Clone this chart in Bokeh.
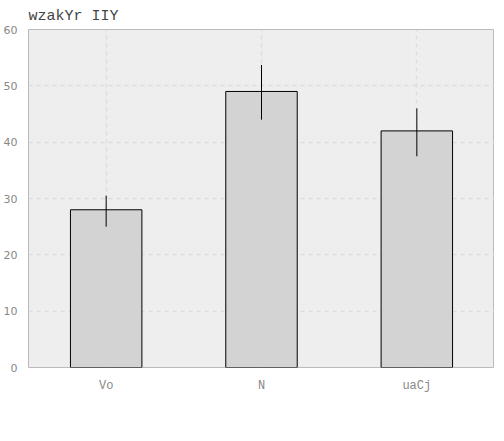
from bokeh.plotting import figure
from bokeh.models import ColumnDataSource, Legend, LegendItem
from bokeh.embed import file_html
from bokeh.resources import INLINE

categories = ["Vo", "N", "uaCj"]
values = [28, 49, 42]
err_low = [25, 44, 37.5]
err_high = [30.5, 53.7, 46]
series_name = "vPOg"
title_text = "wzakYr IIY"

src = ColumnDataSource(dict(x=categories, top=values, lo=err_low, hi=err_high))

p = figure(x_range=categories, y_range=(0, 60), frame_width=466, frame_height=338,
           output_backend="svg", toolbar_location=None,
           min_border_left=22, min_border_right=0, min_border_top=4, min_border_bottom=10)
p.title.text = title_text
p.title.text_font = "Liberation Mono"
p.title.text_font_size = "15px"
p.title.text_font_style = "normal"
p.title.offset = 0
p.background_fill_color = "#eeeeee"
p.border_fill_color = "white"
p.outline_line_color = "#bbbbbb"

p.vbar(x="x", top="top", width=0.46, source=src, fill_color="#d3d3d3", line_color="black")
seg = p.segment(x0="x", x1="x", y0="lo", y1="hi", source=src, line_color="black", line_width=1)

for ax in (p.xaxis[0], p.yaxis[0]):
    ax.axis_line_color = None
    ax.major_tick_line_color = None
    ax.minor_tick_line_color = None
    ax.major_label_text_color = "#888888"
    ax.major_label_text_font_size = "12px"
p.xaxis.major_label_text_font = "Liberation Mono"
p.yaxis.major_label_text_font = "DejaVu Sans"
p.yaxis.major_label_text_font_size = "11px"
p.yaxis.ticker = [0, 10, 20, 30, 40, 50, 60]

for g in (p.xgrid[0], p.ygrid[0]):
    g.grid_line_color = "#dddddd"
    g.grid_line_dash = "4 4"
    g.grid_line_width = 1.5

legend = Legend(items=[LegendItem(label=series_name, renderers=[seg])],
                orientation="horizontal", location="center",
                border_line_color=None, background_fill_alpha=0,
                label_text_font="Liberation Mono", label_text_font_size="14px",
                glyph_width=32, margin=10)
p.add_layout(legend, "below")

open("out.html", "w").write(file_html(p, INLINE))
